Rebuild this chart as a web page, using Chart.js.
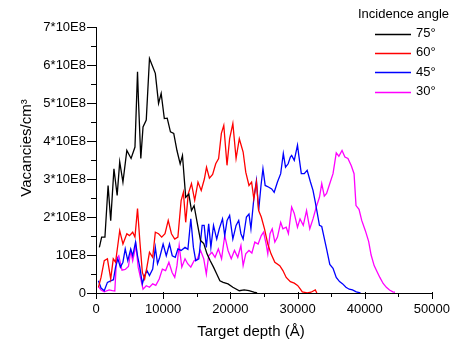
<!DOCTYPE html>
<html>
<head>
<meta charset="utf-8">
<script src="https://cdn.jsdelivr.net/npm/chart.js@4.4.0/dist/chart.umd.min.js"></script>
<style>
  html, body { margin: 0; padding: 0; background: #fff; }
</style>
</head>
<body>
<canvas id="vacChart" width="459" height="347"></canvas>
<script>
'use strict';

// Vacancy profiles, depth in Å, vacancies in units of 10E8 per cm3
const depth75 = [500, 840, 1330, 1800, 2190, 2670, 3150, 3530, 4010, 4590, 5220, 5800, 6180, 6320, 6670, 7000, 7480, 7960, 8340, 8830, 9310, 9700, 10170, 10600, 11080, 11570, 12050, 12530, 12870, 13350, 13820, 14210, 14600, 15080, 15560, 16040, 16520, 17000, 17490, 17970, 18440, 18930, 19650, 20370, 21330, 22050, 22770, 23490, 23980];
const vac75 = [1.20, 1.47, 1.47, 2.83, 1.90, 3.27, 2.57, 3.45, 2.92, 3.75, 3.54, 3.84, 5.82, 5.07, 3.54, 4.37, 4.55, 6.17, 6.00, 5.78, 4.99, 5.25, 4.59, 4.60, 4.24, 4.20, 3.75, 3.40, 3.62, 2.52, 2.60, 2.17, 2.30, 1.83, 1.38, 1.30, 1.03, 0.85, 0.68, 0.50, 0.32, 0.28, 0.24, 0.15, 0.06, 0.08, 0.06, 0.02, 0.00];

const depth60 = [360, 750, 1230, 1700, 2190, 2570, 2910, 3530, 4010, 4590, 4980, 5460, 5800, 6180, 6520, 6900, 7240, 7580, 7960, 8440, 8830, 9310, 9780, 10270, 10750, 11230, 11720, 12190, 12670, 13010, 13350, 13730, 14210, 14690, 15180, 15660, 16130, 16450, 16880, 17360, 17820, 18250, 18660, 19020, 19500, 19890, 20370, 20850, 21330, 21900, 22290, 22770, 23160, 23490, 23880, 24210, 24600, 25080, 25570, 26050, 26620, 27350, 27820, 28310, 28930, 29510, 30000, 30230, 30710, 31430, 32000, 32640, 32870];
const vac60 = [0.15, 0.41, 0.85, 0.90, 0.37, 0.90, 0.81, 1.64, 1.29, 1.56, 1.51, 1.60, 1.47, 2.22, 1.38, 0.54, 0.37, 0.68, 1.07, 0.94, 1.60, 1.56, 1.47, 1.56, 1.91, 1.56, 1.42, 1.47, 2.43, 2.65, 1.86, 2.61, 2.88, 2.44, 2.92, 2.70, 3.00, 3.31, 3.02, 3.12, 3.40, 3.54, 4.20, 4.41, 3.36, 4.06, 4.46, 3.54, 4.06, 3.71, 3.18, 2.83, 2.92, 2.48, 2.92, 2.17, 2.00, 1.69, 1.29, 1.03, 0.81, 0.72, 0.59, 0.41, 0.30, 0.26, 0.20, 0.15, 0.03, 0.00, 0.02, 0.08, 0.00];

const depth45 = [360, 750, 1230, 1700, 2190, 2600, 2910, 3250, 3630, 4010, 4350, 4730, 5170, 5460, 5890, 6180, 6520, 6900, 7240, 7580, 7960, 8440, 8830, 9160, 9490, 9990, 10460, 10940, 11350, 11800, 12190, 12670, 13250, 13680, 14110, 14500, 14840, 15300, 15800, 16100, 16420, 16770, 17100, 17490, 17970, 18350, 18830, 19160, 19510, 19890, 20370, 20850, 21240, 21570, 21900, 22390, 22770, 23060, 23490, 23880, 24210, 24560, 24850, 25180, 25660, 26150, 26520, 27010, 27490, 27880, 28210, 28600, 28930, 29120, 29510, 29990, 30200, 30560, 31000, 31430, 31920, 32300, 32640, 32870, 33260, 33600, 33940, 34320, 34800, 35280, 35760, 36250, 36720, 37200, 37690, 38170, 38740, 39370];
const vac45 = [0.32, 0.13, 0.06, 0.28, 0.32, 0.35, 0.68, 0.90, 0.68, 0.81, 1.16, 0.85, 1.16, 0.98, 1.34, 0.98, 0.68, 0.24, 0.46, 0.59, 0.46, 0.63, 1.20, 0.77, 0.94, 1.29, 0.98, 1.29, 0.98, 0.94, 1.16, 1.12, 1.20, 1.15, 1.95, 1.20, 0.85, 0.90, 1.78, 1.78, 1.20, 1.82, 1.20, 1.78, 1.42, 1.69, 1.95, 1.51, 1.91, 2.04, 1.42, 1.78, 1.91, 1.56, 1.42, 2.00, 2.08, 1.69, 2.48, 2.96, 2.17, 2.83, 3.27, 2.83, 2.79, 2.74, 2.65, 2.92, 3.14, 3.67, 3.31, 3.40, 3.58, 3.62, 3.49, 3.89, 3.60, 3.14, 3.14, 3.23, 2.92, 2.70, 2.39, 2.17, 1.78, 1.75, 1.47, 1.16, 0.75, 0.65, 0.41, 0.30, 0.24, 0.15, 0.10, 0.08, 0.03, 0.00];

const depth30 = [360, 750, 1230, 1950, 2430, 2800, 3060, 3390, 3870, 4350, 4830, 5170, 5460, 5940, 6280, 6610, 7000, 7480, 7960, 8440, 8900, 9410, 9880, 10360, 10850, 11330, 11720, 12050, 12380, 12770, 13250, 13640, 14110, 14600, 15100, 15560, 16040, 16420, 16770, 17250, 17720, 18210, 18690, 19160, 19650, 20130, 20610, 21100, 21570, 21900, 22290, 22770, 23200, 23640, 24130, 24600, 24940, 25320, 25570, 25900, 26230, 26620, 27010, 27490, 27820, 28310, 28640, 29120, 29500, 29990, 30370, 30850, 31340, 31820, 32300, 32780, 33260, 33600, 33980, 34320, 34800, 35280, 35760, 36150, 36620, 37050, 37500, 38000, 38410, 38700, 39150, 39550, 40090, 40580, 40950, 41400, 41800, 42250, 42740, 43220, 43690, 44180, 44500];
const vac30 = [0.17, 0.08, 0.03, 0.08, 0.06, 0.05, 0.90, 0.98, 0.60, 0.62, 0.70, 1.10, 0.85, 1.25, 0.68, 0.41, 0.10, 0.19, 0.15, 0.24, 0.20, 0.37, 0.63, 0.59, 0.81, 0.54, 0.41, 0.72, 1.25, 0.68, 0.90, 0.77, 0.68, 0.85, 0.90, 1.12, 0.90, 0.50, 0.98, 1.07, 0.94, 1.16, 0.90, 1.51, 1.12, 0.90, 1.12, 0.94, 1.25, 0.72, 1.03, 1.12, 1.05, 1.34, 1.29, 1.51, 1.60, 1.29, 1.03, 1.56, 1.69, 1.34, 1.47, 1.86, 1.69, 1.73, 1.56, 2.26, 2.10, 1.73, 1.95, 1.78, 2.17, 1.69, 1.95, 2.26, 2.52, 2.88, 2.55, 2.62, 2.88, 3.14, 3.69, 3.60, 3.75, 3.58, 3.54, 3.35, 3.14, 2.30, 2.20, 1.91, 1.64, 1.36, 1.00, 0.72, 0.57, 0.41, 0.25, 0.15, 0.08, 0.03, 0.02];

const angleLabels = ['75°', '60°', '45°', '30°'];
const angleColors = ['#000000', '#ff0000', '#0000ff', '#ff00ff'];
const yTickLabels = ['0', '10E8', '2*10E8', '3*10E8', '4*10E8', '5*10E8', '6*10E8', '7*10E8'];

const FONT = "'Liberation Sans', Arial, sans-serif";

// Pair depth and vacancy arrays into {x, y} points
function toPoints(depth, vac) {
    return depth.map((x, i) => ({ x: x, y: vac[i] }));
}

// Minor/major tick marks, axis titles and the legend box
const decorPlugin = {
    id: 'decor',
    afterDraw(chart) {
        const { ctx, chartArea, scales } = chart;
        const xs = scales.x;
        const ys = scales.y;
        ctx.save();

        // Tick marks
        ctx.strokeStyle = '#000';
        ctx.lineWidth = 1;
        ctx.beginPath();
        for (let v = 0; v <= 50000; v += 5000) {
            const px = Math.round(xs.getPixelForValue(v)) + 0.5;
            const major = v % 10000 === 0;
            ctx.moveTo(px, chartArea.bottom - (major ? 1 : 0));
            ctx.lineTo(px, chartArea.bottom + (major ? 6 : 4));
        }
        for (let v = 0; v <= 7; v += 0.5) {
            const py = Math.round(ys.getPixelForValue(v)) + 0.5;
            const major = Number.isInteger(v);
            ctx.moveTo(chartArea.left - (major ? 9 : 5), py);
            ctx.lineTo(chartArea.left, py);
        }
        ctx.stroke();

        // Axis titles
        ctx.fillStyle = '#000';
        ctx.font = '15px ' + FONT;
        ctx.textAlign = 'center';
        ctx.textBaseline = 'middle';
        ctx.fillText('Target depth (Å)', 251, 332);

        ctx.save();
        ctx.translate(31, 148);
        ctx.rotate(-Math.PI / 2);
        ctx.textBaseline = 'alphabetic';
        ctx.fillText('Vacancies/cm³', 0, 0);
        ctx.restore();

        // Legend
        ctx.font = '13px ' + FONT;
        ctx.textAlign = 'left';
        ctx.fillText('Incidence angle', 358, 14);
        chart.data.datasets.forEach((ds, i) => {
            const cy = 33.5 + i * 19.4;
            ctx.strokeStyle = ds.borderColor;
            ctx.lineWidth = 1.3;
            ctx.beginPath();
            ctx.moveTo(375, Math.round(cy) + 0.5);
            ctx.lineTo(411, Math.round(cy) + 0.5);
            ctx.stroke();
            ctx.fillText(ds.label, 416, cy);
        });

        ctx.restore();
    }
};

const seriesDepth = [depth75, depth60, depth45, depth30];
const seriesVac = [vac75, vac60, vac45, vac30];

new Chart(document.getElementById('vacChart').getContext('2d'), {
    type: 'line',
    data: {
        datasets: angleLabels.map((label, i) => ({
            label: label,
            data: toPoints(seriesDepth[i], seriesVac[i]),
            borderColor: angleColors[i],
            borderWidth: 1.3,
            pointRadius: 0,
            tension: 0,
            fill: false
        }))
    },
    options: {
        responsive: false,
        animation: false,
        layout: {
            padding: { left: 0, top: 27, right: 17, bottom: 0 }
        },
        scales: {
            x: {
                type: 'linear',
                min: 0,
                max: 50000,
                grid: { display: false, drawTicks: false },
                border: { display: true, color: '#000', width: 1 },
                ticks: {
                    stepSize: 10000,
                    padding: 9,
                    color: '#000',
                    font: { family: FONT, size: 13 },
                    maxRotation: 0,
                    callback: (value) => String(value)
                },
                afterFit(scale) {
                    scale.height = 54;
                }
            },
            y: {
                min: 0,
                max: 7,
                grid: { display: false, drawTicks: false },
                border: { display: true, color: '#000', width: 1 },
                ticks: {
                    stepSize: 1,
                    padding: 10,
                    color: '#000',
                    font: { family: FONT, size: 13 },
                    callback: (value) => yTickLabels[value]
                },
                afterFit(scale) {
                    scale.width = 96;
                }
            }
        },
        plugins: {
            legend: { display: false },
            tooltip: { enabled: false }
        }
    },
    plugins: [decorPlugin]
});
</script>
</body>
</html>
